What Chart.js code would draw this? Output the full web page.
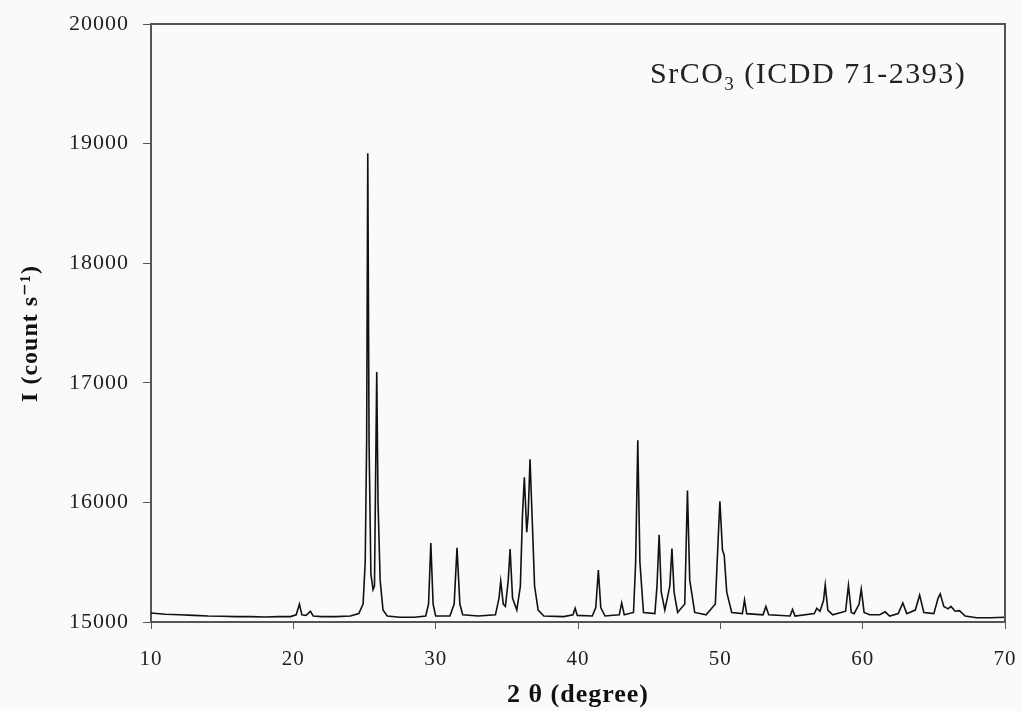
<!DOCTYPE html>
<html>
<head>
<meta charset="utf-8">
<script src="https://cdn.jsdelivr.net/npm/chart.js@4/dist/chart.umd.min.js"></script>
<style>
  html, body { margin: 0; padding: 0; background: #fafafa; }
  #wrap { width: 1023px; height: 711px; }
</style>
</head>
<body>
<div id="wrap"><canvas id="xrd"></canvas></div>
<script>
// 2 theta (degree) and intensity
const twoTheta = [
  10.0, 11.0, 12.0, 13.0, 14.0, 15.0, 16.0, 17.0, 18.0, 19.0, 19.8,
  20.2, 20.43, 20.6, 20.9, 21.2, 21.4, 22.0, 23.0, 24.0, 24.6, 24.9,
  25.05, 25.15, 25.23, 25.32, 25.45, 25.6, 25.7, 25.78, 25.86, 25.95, 26.1, 26.3, 26.6,
  27.5, 28.5, 29.3, 29.5, 29.66, 29.82, 30.0, 31.0, 31.3, 31.5, 31.7, 31.9,
  33.0, 34.2, 34.45, 34.57, 34.75, 34.9, 35.1, 35.23, 35.4, 35.7, 35.95, 36.1,
  36.23, 36.4, 36.5, 36.63, 36.8, 36.95, 37.2, 37.6, 39.0, 39.65, 39.8, 39.95,
  41.0, 41.25, 41.43, 41.6, 41.9, 42.9, 43.07, 43.25, 43.9, 44.05, 44.2, 44.35, 44.6,
  45.4, 45.55, 45.7, 45.85, 46.1, 46.45, 46.6, 46.75, 47.0, 47.5, 47.69, 47.85, 48.2,
  49.0, 49.65, 49.85, 49.97, 50.15, 50.27, 50.45, 50.8, 51.55, 51.7, 51.85,
  53.0, 53.2, 53.4, 54.9, 55.07, 55.25, 56.6, 56.78, 57.0, 57.25, 57.37, 57.55, 57.9,
  58.8, 59.0, 59.2, 59.4, 59.75, 59.9, 60.1, 60.5, 61.2, 61.58, 61.9, 62.5, 62.82, 63.1,
  63.7, 64.0, 64.3, 65.0, 65.3, 65.45, 65.7, 66.0, 66.2, 66.5, 66.8, 67.2, 68.0, 69.0, 70.0
];
const intensity = [
  15075, 15065, 15060, 15055, 15050, 15048, 15045, 15045, 15042, 15045, 15045,
  15060, 15150, 15060, 15055, 15090, 15050, 15045, 15045, 15050, 15070, 15150,
  15500, 16500, 18920, 16500, 15400, 15270, 15300, 16200, 17090, 16000, 15350, 15100, 15050,
  15040, 15040, 15050, 15150, 15660, 15150, 15050, 15050, 15150, 15620, 15150, 15060,
  15050, 15060, 15200, 15340, 15150, 15130, 15350, 15610, 15200, 15100, 15300, 15900,
  16210, 15750, 15900, 16360, 15800, 15300, 15100, 15050, 15045, 15060, 15115, 15055,
  15050, 15120, 15435, 15120, 15050, 15060, 15160, 15060, 15080, 15500, 16520, 15500, 15080,
  15070, 15300, 15730, 15250, 15100, 15300, 15615, 15250, 15080, 15150, 16100, 15350, 15080,
  15060, 15150, 15700, 16010, 15600, 15560, 15250, 15080, 15070, 15185, 15070,
  15060, 15130, 15060, 15050, 15105, 15050, 15070, 15115, 15090, 15180, 15310, 15100, 15060,
  15090, 15305, 15080, 15070, 15150, 15275, 15080, 15060, 15060, 15085, 15050, 15070, 15160, 15070,
  15100, 15225, 15080, 15070, 15200, 15235, 15130, 15110, 15130, 15090, 15095, 15050, 15035, 15035, 15040
];
const xTicks = [10, 20, 30, 40, 50, 60, 70];
const yTicks = [15000, 16000, 17000, 18000, 19000, 20000];
const phaseLabel = ["SrCO", "3", " (ICDD 71-2393)"];

const serif = "'Liberation Serif', 'DejaVu Serif', serif";

// the scanned figure has wide-set type
const spacingPlugin = {
  id: "spacing",
  beforeInit(chart) { chart.ctx.letterSpacing = "1px"; },
  beforeUpdate(chart) { chart.ctx.letterSpacing = "1px"; },
  beforeDraw(chart) { chart.ctx.letterSpacing = "1px"; }
};

const framePlugin = {
  id: "frame",
  afterDraw(chart) {
    const { ctx, chartArea: a } = chart;
    ctx.save();
    ctx.strokeStyle = "#555";
    ctx.lineWidth = 2;
    ctx.beginPath();
    ctx.moveTo(a.left, a.top);
    ctx.lineTo(a.right, a.top);
    ctx.lineTo(a.right, a.bottom);
    ctx.stroke();

    // phase label, top right
    ctx.fillStyle = "#222";
    ctx.textBaseline = "alphabetic";
    ctx.letterSpacing = "1.5px";
    let x = 650, y = 83;
    ctx.font = "30px " + serif;
    ctx.fillText(phaseLabel[0], x, y);
    x += ctx.measureText(phaseLabel[0]).width;
    ctx.font = "19px " + serif;
    ctx.fillText(phaseLabel[1], x, y + 7);
    x += ctx.measureText(phaseLabel[1]).width;
    ctx.font = "30px " + serif;
    ctx.fillText(phaseLabel[2], x, y);
    ctx.restore();
  }
};

new Chart(document.getElementById("xrd"), {
  type: "line",
  data: {
    datasets: [{
      data: twoTheta.map((t, i) => ({ x: t, y: intensity[i] })),
      borderColor: "#111",
      borderWidth: 1.6,
      pointRadius: 0,
      tension: 0,
      fill: false
    }]
  },
  options: {
    responsive: true,
    maintainAspectRatio: false,
    animation: false,
    layout: { padding: { top: 24, right: 18, left: 0, bottom: 0 } },
    plugins: {
      legend: { display: false },
      tooltip: { enabled: false }
    },
    scales: {
      x: {
        type: "linear",
        min: 10,
        max: 70,
        afterBuildTicks: s => { s.ticks = xTicks.map(v => ({ value: v })); },
        afterFit: s => { s.height = 89; s.paddingLeft = 0; s.paddingRight = 0; },
        grid: { drawOnChartArea: false, tickLength: 7, color: "#555" },
        border: { color: "#555", width: 2 },
        ticks: { color: "#222", font: { family: serif, size: 21 }, padding: 18 },
        title: {
          display: true,
          text: "2 θ (degree)",
          color: "#111",
          font: { family: serif, size: 26, weight: "bold" },
          padding: { top: 0, bottom: 0 }
        }
      },
      y: {
        min: 15000,
        max: 20000,
        afterBuildTicks: s => { s.ticks = yTicks.map(v => ({ value: v })); },
        afterFit: s => { s.width = 151; s.paddingTop = 0; s.paddingBottom = 0; },
        grid: { drawOnChartArea: false, tickLength: 8, color: "#555" },
        border: { color: "#555", width: 2 },
        ticks: {
          color: "#222",
          font: { family: serif, size: 22 },
          padding: 14,
          callback: v => String(v)
        },
        title: {
          display: true,
          text: "I (count s⁻¹)   ",
          color: "#111",
          font: { family: serif, size: 24, weight: "bold" },
          padding: { top: 16, bottom: 0 }
        }
      }
    }
  },
  plugins: [spacingPlugin, framePlugin]
});
</script>
</body>
</html>
